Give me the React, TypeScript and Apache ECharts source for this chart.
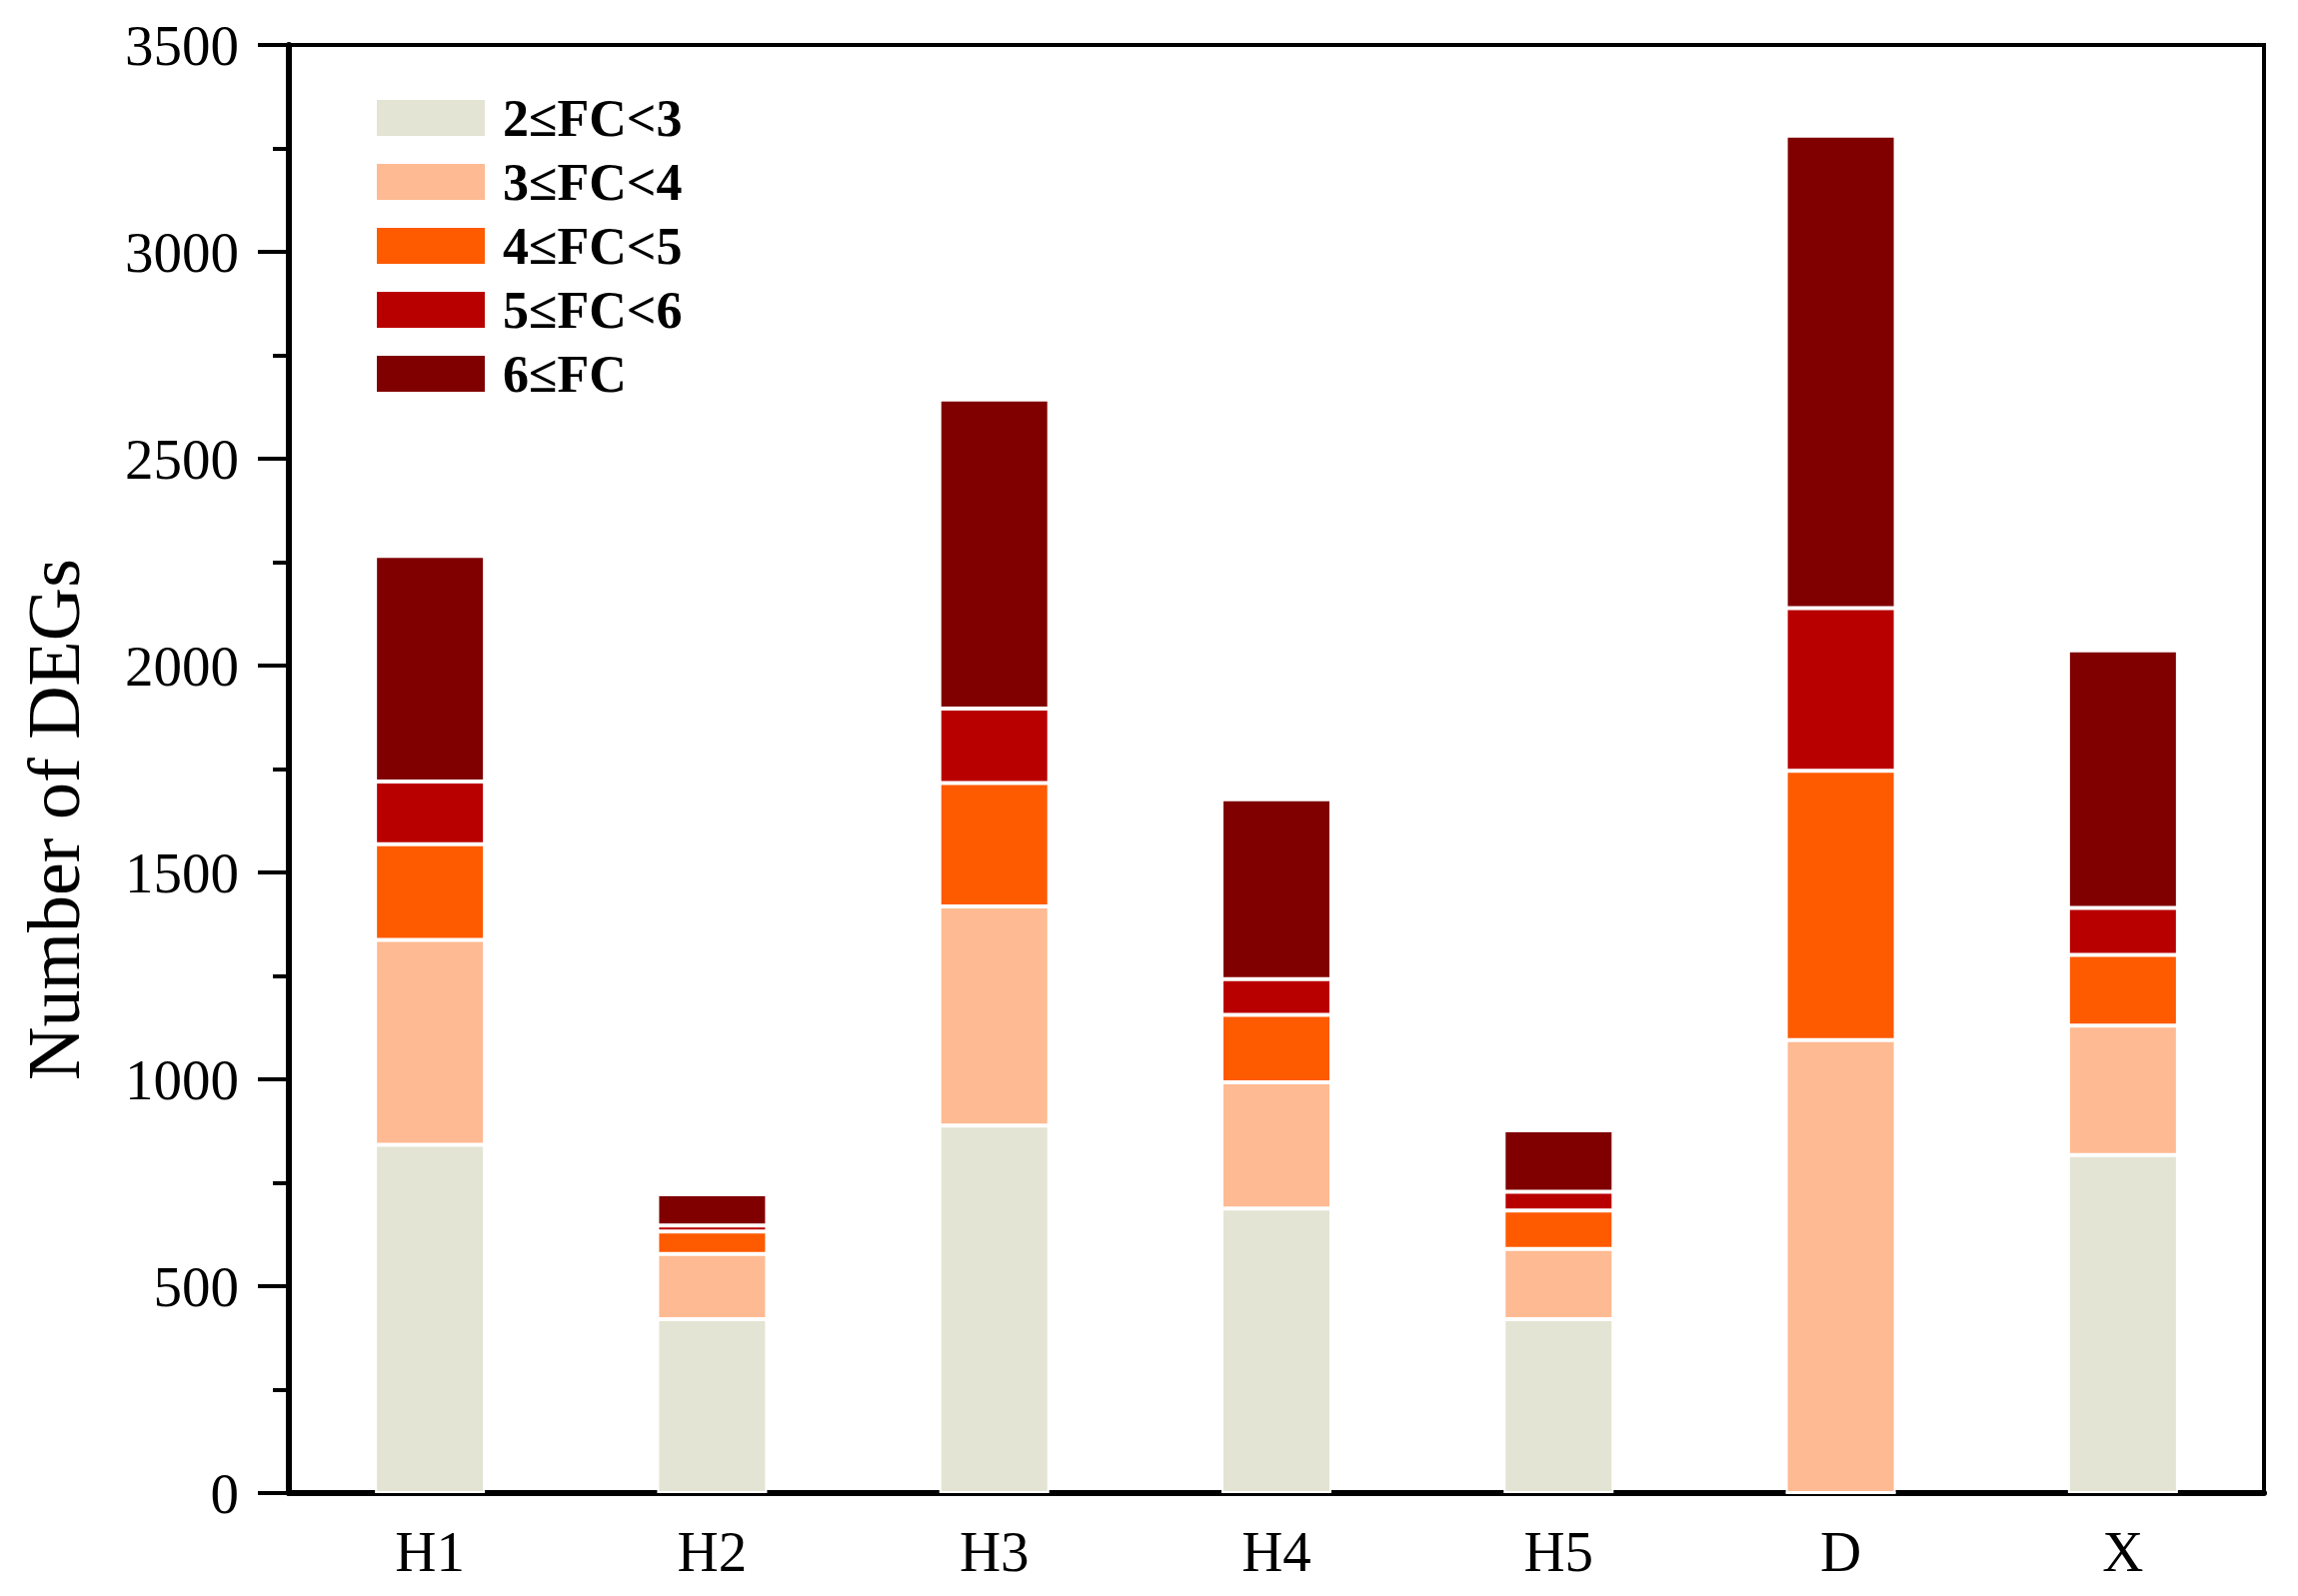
import React, { useEffect, useRef } from "react";
import * as echarts from "echarts";

const categories = ["H1", "H2", "H3", "H4", "H5", "D", "X"];
const seriesNames = ["2≤FC<3", "3≤FC<4", "4≤FC<5", "5≤FC<6", "6≤FC"];
const fc2to3 = [842, 420, 888, 688, 420, 0, 817];
const fc3to4 = [495, 158, 530, 305, 170, 1095, 313];
const fc4to5 = [231, 54, 298, 163, 93, 651, 171];
const fc5to6 = [152, 15, 180, 86, 45, 393, 113];
const fc6up = [545, 75, 747, 435, 149, 1142, 623];
const seriesColors = ["#e4e4d4", "#feba92", "#fe5a00", "#b90000", "#800000"];
const yTicks = { min: 0, max: 3500, interval: 500 };
const yTitle = "Number of DEGs";

const FONT = '"Liberation Serif", "Times New Roman", serif';

export default function App() {
  const ref = useRef<HTMLDivElement>(null);
  useEffect(() => {
    if (!ref.current) return;
    const chart = echarts.init(ref.current, null, { renderer: "svg" });
    const values = [fc2to3, fc3to4, fc4to5, fc5to6, fc6up];
    chart.setOption({
      animation: false,
      backgroundColor: "#ffffff",
      grid: {
        left: 289,
        right: 34,
        top: 45,
        bottom: 103,
        show: true,
        borderColor: "#000",
        borderWidth: 4,
        backgroundColor: "transparent",
      },
      legend: {
        orient: "vertical",
        left: 370,
        top: 87,
        itemWidth: 110,
        itemHeight: 38,
        itemGap: 12,
        icon: "rect",
        data: seriesNames,
        textStyle: {
          fontFamily: FONT,
          fontSize: 52,
          fontWeight: "bold",
          color: "#000",
          padding: [0, 0, 0, 12],
        },
      },
      graphic: [
        {
          type: "text",
          x: 54,
          y: 820,
          rotation: Math.PI / 2,
          style: {
            text: yTitle,
            fontFamily: FONT,
            fontSize: 74,
            fill: "#000",
            textAlign: "center",
            textVerticalAlign: "middle",
          },
        },
      ],
      xAxis: {
        type: "category",
        data: categories,
        axisLine: { show: true, lineStyle: { color: "#000", width: 6 } },
        axisTick: { show: false },
        axisLabel: { fontFamily: FONT, fontSize: 57, color: "#000", margin: 30 },
      },
      yAxis: {
        type: "value",
        min: yTicks.min,
        max: yTicks.max,
        interval: yTicks.interval,
        axisLine: { show: true, lineStyle: { color: "#000", width: 6 } },
        axisTick: { show: true, inside: false, length: 31, lineStyle: { color: "#000", width: 4 } },
        minorTick: { show: true, splitNumber: 2, length: 16, lineStyle: { color: "#000", width: 4 } },
        splitLine: { show: false },
        minorSplitLine: { show: false },
        axisLabel: {
          fontFamily: FONT,
          fontSize: 57,
          color: "#000",
          margin: 50,
          formatter: (v: number) => String(v),
        },
      },
      series: seriesNames.map((name, i) => ({
        name,
        type: "bar",
        stack: "total",
        barWidth: 110,
        data: values[i],
        itemStyle: { color: seriesColors[i], borderColor: "#ffffff", borderWidth: 2 },
      })),
    });
    return () => chart.dispose();
  }, []);
  return (
    <div
      ref={ref}
      style={{ position: "absolute", left: 0, top: 0, width: 2299, height: 1597 }}
    />
  );
}
